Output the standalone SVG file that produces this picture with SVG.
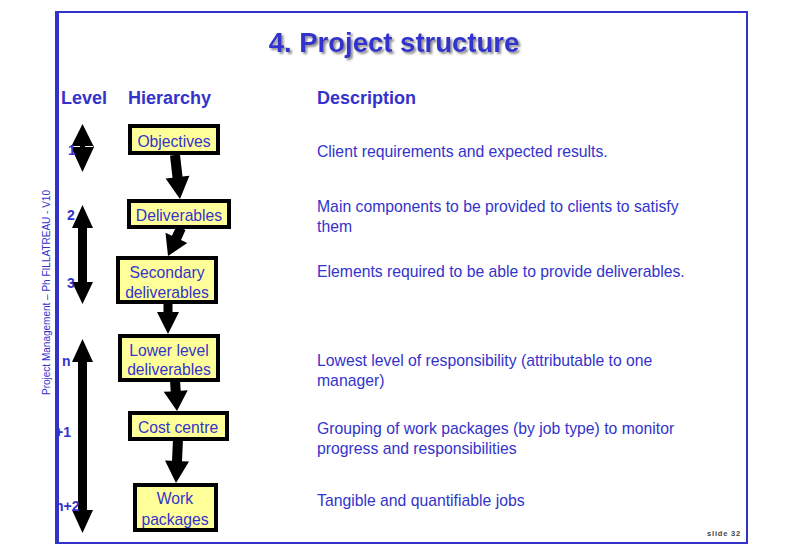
<svg xmlns="http://www.w3.org/2000/svg" width="785" height="555" viewBox="0 0 785 555">
  <defs>
    <style>
      .blue { fill: #3333cc; font-family: "Liberation Sans", Arial, sans-serif; }
      .title { font-size: 27.5px; font-weight: bold; }
      .head { font-size: 18px; font-weight: bold; }
      .desc { font-size: 15.75px; }
      .lvl { font-size: 14px; font-weight: bold; }
      .box rect { fill: #ffff99; stroke: #000; stroke-width: 4; }
      .box text { fill: #3333cc; font-family: "Liberation Sans", Arial, sans-serif; font-size: 15.7px; text-anchor: middle; }
      .conn polygon, .levels polygon { fill: #000; }
      .frame { stroke: #3333cc; fill: none; }
    </style>
    <!-- soft grey drop shadow for the heading -->
    <filter id="shadow" x="-5%" y="-20%" width="115%" height="150%">
      <feGaussianBlur in="SourceAlpha" stdDeviation="1.2" result="b"/>
      <feOffset in="b" dx="2" dy="2" result="o"/>
      <feFlood flood-color="#8a8a8a"/>
      <feComposite in2="o" operator="in" result="s"/>
      <feMerge>
        <feMergeNode in="s"/>
        <feMergeNode in="SourceGraphic"/>
      </feMerge>
    </filter>
    <clipPath id="inside">
      <rect x="57" y="0" width="700" height="555"/>
    </clipPath>
  </defs>

  <rect width="785" height="555" fill="#fff"/>

  <!-- slide frame -->
  <g id="frame">
    <rect class="frame" x="57" y="12" width="690" height="531" stroke-width="2"/>
    <line class="frame" x1="57" y1="11" x2="57" y2="544" stroke-width="4"/>
  </g>

  <!-- heading -->
  <text id="title" class="blue title" x="394" y="52" text-anchor="middle" filter="url(#shadow)">4. Project structure</text>

  <!-- column headings -->
  <g id="headings">
    <text class="blue head" x="61" y="104">Level</text>
    <text class="blue head" x="128" y="104">Hierarchy</text>
    <text class="blue head" x="317" y="104">Description</text>
  </g>

  <!-- side caption -->
  <text class="blue" font-size="11" transform="translate(50,395) rotate(-90)" textLength="205" lengthAdjust="spacingAndGlyphs">Project Management – Ph FILLATREAU - V10</text>

  <!-- level span arrows -->
  <g id="level-arrows" class="levels">
    <polygon points="82.5,124 94,147 82.5,172 71,147"/>
    <line x1="72" y1="146.5" x2="80" y2="146.5" stroke="#fff" stroke-width="1"/>
    <line x1="85" y1="146.5" x2="93" y2="146.5" stroke="#fff" stroke-width="1"/>
    <polygon points="82.5,205 93,228 87,228 87,282 93,282 82.5,304 72,282 78,282 78,228 72,228"/>
    <polygon points="82.5,339 93,362 87,362 87,510 93,510 82.5,533 72,510 78,510 78,362 72,362"/>
  </g>

  <!-- level labels -->
  <g id="level-labels" clip-path="url(#inside)">
    <text class="blue lvl" x="68" y="155">1</text>
    <text class="blue lvl" x="67" y="220">2</text>
    <text class="blue lvl" x="67" y="288">3</text>
    <text class="blue lvl" x="62" y="366">n</text>
    <text class="blue lvl" x="55" y="437">+1</text>
    <text class="blue lvl" x="55" y="511">n+2</text>
  </g>

  <!-- hierarchy connectors -->
  <g id="connectors" class="conn">
    <polygon points="170.0,155.6 172.5,177.7 165.6,178.5 180,199 189.4,175.8 182.5,176.6 180.0,154.4"/>
    <polygon points="176.5,225.9 171.9,235.8 165.5,232.8 168,256 187.3,242.9 181.0,240.0 185.5,230.1"/>
    <polygon points="163.5,302 163.5,312 157,312 168,334 179,312 172.5,312 172.5,302"/>
    <polygon points="170.0,380.3 170.7,391.4 163.7,391.8 177,411 187.7,390.3 180.7,390.7 180.0,379.7"/>
    <polygon points="173.0,438.8 172.0,460.8 165.0,460.5 176,483 189.0,461.6 182.0,461.3 183.0,439.2"/>
  </g>

  <!-- hierarchy nodes -->
  <g id="objectives" class="box">
    <rect x="130" y="126" width="88" height="27"/>
    <text x="174" y="146.5">Objectives</text>
  </g>
  <g id="deliverables" class="box">
    <rect x="129" y="201" width="100" height="26"/>
    <text x="179" y="220.5">Deliverables</text>
  </g>
  <g id="secondary-deliverables" class="box">
    <rect x="118" y="258" width="98" height="44"/>
    <text x="167" y="277.5">Secondary</text>
    <text x="167" y="297.5">deliverables</text>
  </g>
  <g id="lower-level-deliverables" class="box">
    <rect x="120" y="336" width="98" height="44"/>
    <text x="169" y="355.5">Lower level</text>
    <text x="169" y="374.5">deliverables</text>
  </g>
  <g id="cost-centre" class="box">
    <rect x="130" y="413" width="97" height="26"/>
    <text x="178" y="432.5">Cost centre</text>
  </g>
  <g id="work-packages" class="box">
    <rect x="135" y="485" width="81" height="45"/>
    <text x="175" y="503.5">Work</text>
    <text x="175" y="524.5">packages</text>
  </g>

  <!-- descriptions -->
  <g id="descriptions">
    <text class="blue desc" x="317" y="157">Client requirements and expected results.</text>
    <text class="blue desc" x="317" y="212">Main components to be provided to clients to satisfy</text>
    <text class="blue desc" x="317" y="232">them</text>
    <text class="blue desc" x="317" y="277">Elements required to be able to provide deliverables.</text>
    <text class="blue desc" x="317" y="366">Lowest level of responsibility (attributable to one</text>
    <text class="blue desc" x="317" y="386">manager)</text>
    <text class="blue desc" x="317" y="434">Grouping of work packages (by job type) to monitor</text>
    <text class="blue desc" x="317" y="454">progress and responsibilities</text>
    <text class="blue desc" x="317" y="506">Tangible and quantifiable jobs</text>
  </g>

  <text x="741" y="536" text-anchor="end" font-family="Liberation Sans, Arial, sans-serif" font-size="7.5" font-weight="bold" letter-spacing="0.8" fill="#444">slide 32</text>
</svg>
